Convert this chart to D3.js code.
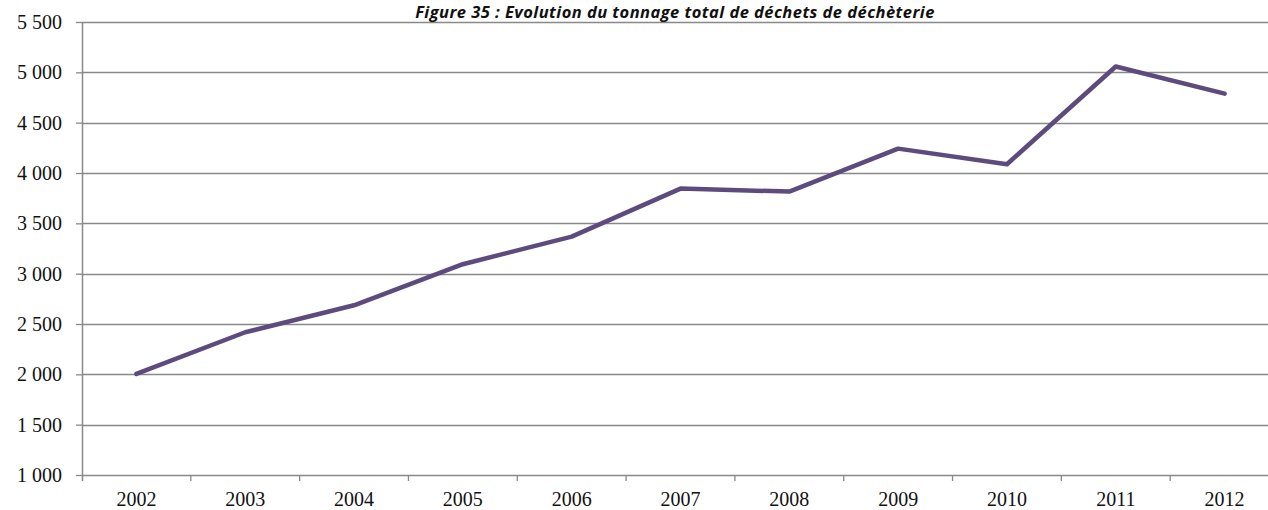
<!DOCTYPE html>
<html>
<head>
<meta charset="utf-8">
<script src="https://cdn.jsdelivr.net/npm/d3@7"></script>
<style>
  html, body { margin: 0; padding: 0; background: #fff; }
  svg { display: block; }
</style>
</head>
<body>
<svg id="chart"></svg>
<script>
// data
const years = ["2002", "2003", "2004", "2005", "2006", "2007", "2008", "2009", "2010", "2011", "2012"]
const tonnage = [2005, 2418, 2686, 3094, 3368, 3845, 3815, 4242, 4087, 5058, 4788]
const yTicks = [1000, 1500, 2000, 2500, 3000, 3500, 4000, 4500, 5000, 5500]
const title = "Figure 35 : Evolution du tonnage total de déchets de déchèterie"

const width = 1268, height = 510
const margin = { top: 22, left: 82 }
const plotW = 1197   // plot runs past the right edge, as in the original
const plotH = 453

const svg = d3.select("#chart")
  .attr("width", width)
  .attr("height", height)

const fr = d3.formatLocale({ decimal: ",", thousands: " ", grouping: [3], currency: ["", " €"] })
const fmt = fr.format(",d")

const x = d3.scaleBand()
  .domain(years)
  .range([margin.left, margin.left + plotW])

const y = d3.scaleLinear()
  .domain([1000, 5500])
  .range([margin.top + plotH, margin.top])

const gridColor = "#898989"
const labelFont = "'Liberation Serif', serif"

// horizontal gridlines
svg.append("g")
  .selectAll("line")
  .data(yTicks.slice(1))
  .join("line")
  .attr("x1", margin.left)
  .attr("x2", margin.left + plotW)
  .attr("y1", d => Math.round(y(d)) + 0.5)
  .attr("y2", d => Math.round(y(d)) + 0.5)
  .attr("stroke", gridColor)
  .attr("stroke-width", 1.3)

// y axis
const yAxis = svg.append("g")
  .attr("transform", `translate(${margin.left},0)`)
  .call(d3.axisLeft(y).tickValues(yTicks).tickFormat(fmt).tickSize(6).tickPadding(14))
yAxis.select(".domain")
  .attr("d", `M0.5,${margin.top}V${margin.top + plotH + 6}`)
  .attr("stroke", gridColor)
  .attr("stroke-width", 1.5)
yAxis.selectAll(".tick line").attr("stroke", gridColor).attr("stroke-width", 1.3)
yAxis.selectAll(".tick text")
  .attr("fill", "#111")
  .style("font-family", labelFont)
  .style("font-size", "20px")

// x axis: ticks between categories
const xAxis = svg.append("g")
  .attr("transform", `translate(0,${margin.top + plotH})`)
  .call(d3.axisBottom(x).tickSize(0).tickPadding(17))
xAxis.select(".domain").attr("stroke", gridColor).attr("stroke-width", 1.5)
xAxis.selectAll(".tick text")
  .attr("fill", "#111")
  .style("font-family", labelFont)
  .style("font-size", "20px")
xAxis.append("g")
  .selectAll("line")
  .data(years.slice(1))
  .join("line")
  .attr("x1", d => x(d))
  .attr("x2", d => x(d))
  .attr("y1", 0)
  .attr("y2", 6)
  .attr("stroke", gridColor)
  .attr("stroke-width", 1.3)

// the series
const line = d3.line()
  .x((d, i) => x(years[i]) + x.bandwidth() / 2)
  .y(d => y(d))

svg.append("path")
  .datum(tonnage)
  .attr("d", line)
  .attr("fill", "none")
  .attr("stroke", "#5e4b7e")
  .attr("stroke-width", 4.5)
  .attr("stroke-linejoin", "round")
  .attr("stroke-linecap", "round")

// title
svg.append("text")
  .attr("x", 675)
  .attr("y", 18)
  .attr("text-anchor", "middle")
  .style("font-family", "'Open Sans', sans-serif")
  .style("font-weight", "bold")
  .style("font-style", "italic")
  .style("font-size", "16.5px")
  .style("letter-spacing", "0.45px")
  .attr("fill", "#111")
  .text(title)
</script>
</body>
</html>
